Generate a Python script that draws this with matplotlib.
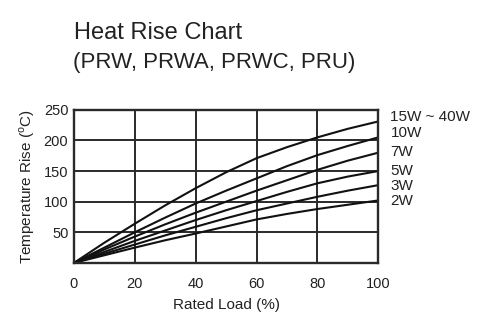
import matplotlib
matplotlib.use("Agg")
import matplotlib.pyplot as plt

plt.rcParams['font.family'] = ['Liberation Sans', 'DejaVu Sans']
plt.rcParams['mathtext.fontset'] = 'custom'
plt.rcParams['mathtext.rm'] = 'Liberation Sans'

load = [0, 10, 20, 30, 40, 50, 60, 70, 80, 90, 100]
rise_15w_40w = [0, 33, 64, 94, 122, 148, 171, 189, 205, 219, 231]
rise_10w = [0, 25, 50, 74, 97, 118, 138, 158, 176, 191, 205]
rise_7w = [0, 22, 43, 63, 82, 100, 118, 135, 152, 167, 180]
rise_5w = [0, 18, 36, 53, 70, 86, 101, 116, 130, 141, 150]
rise_3w = [0, 15, 30, 45, 59, 73, 86, 97, 108, 118, 127]
rise_2w = [0, 12.5, 25, 37, 48, 59.5, 71, 80, 88, 95, 102]

curves = [rise_15w_40w, rise_10w, rise_7w, rise_5w, rise_3w, rise_2w]
names = ["15W ~ 40W", "10W", "7W", "5W", "3W", "2W"]
label_y = [238, 212, 181, 150, 126, 101]

x_ticks = [0, 20, 40, 60, 80, 100]
y_ticks = [50, 100, 150, 200, 250]

ink = "#222222"

fig = plt.figure(figsize=(4.8, 3.23), dpi=100)
ax = fig.add_axes([0.154, 0.186, 0.634, 0.474])

for ys in curves:
    ax.plot(load, ys, color="#111111", lw=1.5, solid_capstyle="round")

# series names sit just right of the plot, next to each curve's end
for name, yl in zip(names, label_y):
    ax.text(104, yl, name, fontsize=11, color=ink, va="center", ha="left", clip_on=False)

ax.set_xlim(0, 100)
ax.set_ylim(0, 250)
ax.set_xticks(x_ticks)
ax.set_yticks(y_ticks)
ax.grid(True, color="#2a2a2a", lw=1.4)
ax.set_axisbelow(True)
ax.tick_params(length=0, labelsize=10.5, labelcolor=ink)
ax.tick_params(axis="x", pad=10)
ax.tick_params(axis="y", pad=4)
for s in ax.spines.values():
    s.set_color("#2a2a2a")
    s.set_linewidth(1.7)

ax.set_xlabel("Rated Load (%)", fontsize=11, color=ink, labelpad=5)
ax.set_ylabel(r"Temperature Rise ($^{\rm o}$C)", fontsize=11, color=ink, labelpad=5)

fig.text(0.155, 0.898, "Heat Rise Chart", fontsize=17, color=ink, va="center", ha="left")
fig.text(0.152, 0.806, "(PRW, PRWA, PRWC, PRU)", fontsize=16, color=ink, va="center", ha="left")

fig.savefig("out.png", dpi=100)
